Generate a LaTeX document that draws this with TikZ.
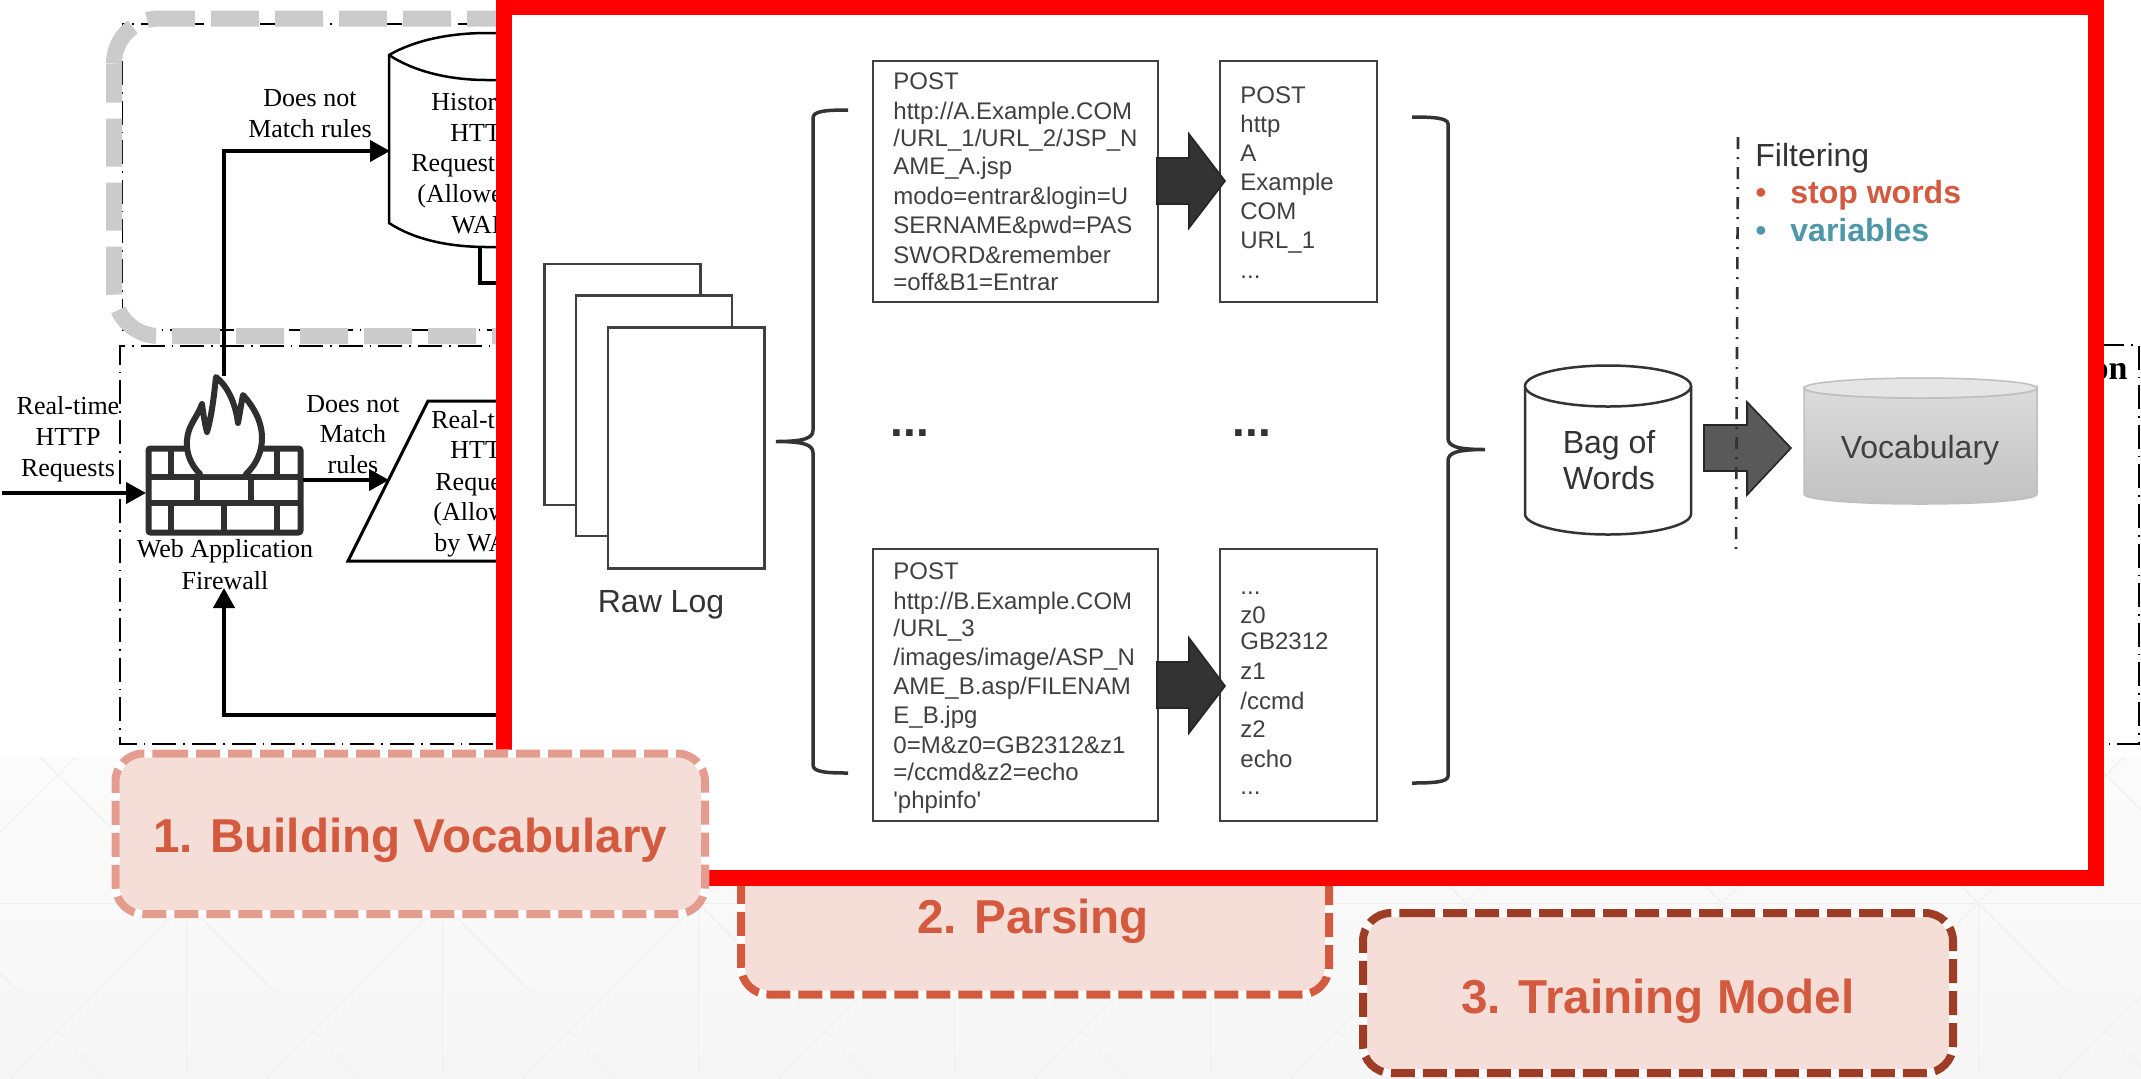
\documentclass[tikz,border=0pt]{standalone}
\usepackage{fontspec}
\usetikzlibrary{arrows.meta}
\newfontfamily\arialf{Liberation Sans}
\newfontfamily\timesf{Liberation Serif}
\definecolor{redbox}{HTML}{FF0000}
\definecolor{inkgrey}{HTML}{404040}
\definecolor{darkgrey}{HTML}{333333}
\definecolor{bandgrey}{HTML}{CBCBCB}
\definecolor{rust}{HTML}{D35A3E}
\definecolor{rustlight}{HTML}{E39C8D}
\definecolor{rustdark}{HTML}{9E3D25}
\definecolor{tealtxt}{HTML}{4E97A8}
\definecolor{stepfill}{HTML}{F5DDD8}
\definecolor{wallgrey}{HTML}{2F2F2F}
\definecolor{faint}{HTML}{EFEFEF}
\tikzset{
  sans/.style={font=\arialf\fontsize{12}{14}\selectfont,text=inkgrey,inner sep=0pt,anchor=base west},
  big/.style={font=\arialf\fontsize{16}{18}\selectfont,text=darkgrey,inner sep=0pt,anchor=base},
  boldbig/.style={font=\arialf\bfseries\fontsize{16}{18}\selectfont,inner sep=0pt,anchor=base west},
  steplabel/.style={font=\arialf\bfseries\fontsize{23.8}{26}\selectfont,text=rust,inner sep=0pt,anchor=base},
  serif/.style={font=\timesf\fontsize{13}{15}\selectfont,text=black,inner sep=0pt,anchor=base},
  serifw/.style={serif,anchor=base west},
  textbox/.style={draw=inkgrey,line width=1.25pt,fill=white},
  page/.style={draw=inkgrey,line width=1.25pt,fill=white},
  conn/.style={draw=black,line width=2pt,-{Triangle[length=10pt,width=10.5pt]}},
  plainconn/.style={draw=black,line width=2pt},
  thin/.style={draw=black,line width=.75pt,dash pattern=on 12pt off 3.5pt on .8pt off 3.5pt},
  grayband/.style={draw=bandgrey,line width=8pt,rounded corners=22.5pt,dash pattern=on 24pt off 8pt},
  stepfillst/.style={fill=stepfill,draw=white,line width=4pt,rounded corners=14pt},
  stepdash/.style={line width=4pt,rounded corners=14pt,dash pattern=on 12pt off 4pt},
  brace/.style={draw=darkgrey,line width=1.75pt},
  block/.style={draw=black!85,line width=.8pt,fill=darkgrey,line join=miter},
  cyl/.style={draw=black,line width=1.25pt},
  wall/.style={draw=wallgrey,line width=3pt},
}
\begin{document}
\begin{tikzpicture}[x=.5pt,y=-.5pt]
\useasboundingbox (0,0) rectangle (2141,1078);
\fill[white] (0,0) rectangle (2141,1078);
% slide background
\shade[top color=black!1.5,bottom color=black!3.5] (0,757) rectangle (2141,1078);
\begin{scope}
\clip (0,757) rectangle (2141,1078);
\draw[faint,line width=.5pt] (0,903) -- (2141,903);
\foreach \k in {-1,...,8}{
  \pgfmathsetmacro{\xc}{186+256*\k}
  \draw[faint,line width=.5pt] (\xc,903) -- (\xc,1078);
  \draw[faint,line width=.5pt] ({\xc-146},757) -- ({\xc+175},1078);
  \draw[faint,line width=.5pt] ({\xc+146},757) -- ({\xc-175},1078);
}
\end{scope}
% paper frames
\draw[thin] (640,24) -- (122.6,24) -- (122.6,330) -- (640,330);
\draw[thin] (640,346) -- (120,346) -- (120,744) -- (640,744);
\draw[thin] (2100,345) -- (2139,345) -- (2139,744) -- (2100,744);
% grey highlight box
\draw[grayband] (604,336) -- (114,336) -- (114,63.5);
\draw[grayband,dash phase=2.65pt] (114,63.5) -- (114,18.5) -- (640,18.5);
% firewall
\coordinate (inStart) at (2,493);
\coordinate (fwIn) at (146,493);
\coordinate (fwOut) at (303,480);
\coordinate (fwTop) at (224,376);
\coordinate (fwBottom) at (224,588);
\coordinate (histIn) at (390,151);
\coordinate (rtIn) at (389,480);
\coordinate (histOutA) at (480,247);
\coordinate (histOutB) at (520,283);
\coordinate (feedback) at (520,715);
\draw[wall,rounded corners=1pt] (148.5,448.5) rectangle (300.5,532.5);
\draw[wall] (148,477) -- (301,477) (148,503) -- (301,503);
\draw[wall] (171,448) -- (171,477) (277,448) -- (277,477);
\draw[wall] (197,477) -- (197,503) (251,477) -- (251,503);
\draw[wall] (171,503) -- (171,533) (224,503) -- (224,533) (277,503) -- (277,533);
\draw[wall,fill=white,line join=round,line cap=round] (200,474)
  .. controls (190,464) and (186,452) .. (187,440)
  .. controls (188,425) and (197,418) .. (202,404)
  .. controls (203,412) and (205,425) .. (207,432)
  .. controls (212,415) and (214,395) .. (216,377)
  .. controls (226,385) and (235,400) .. (238,423)
  .. controls (240,412) and (241,405) .. (243,395)
  .. controls (252,405) and (262,420) .. (262,438)
  .. controls (262,452) and (256,465) .. (246,474);
\node[serif] (wafA) at (225,557) {Web Application};
\node[serif] (wafB) at (225,589) {Firewall};
% connectors on the left
\draw[conn] (inStart) -- (fwIn);
\draw[conn] (fwTop) |- (histIn);
\draw[conn] (fwOut) -- (rtIn);
\draw[conn] (feedback) -| (fwBottom);
% historical cylinder
\draw[cyl,fill=white] (389,55) .. controls (415,40) and (450,33) .. (487,33) -- (600,33) -- (600,247) -- (487,247) .. controls (450,247) and (415,240) .. (389,223) -- cycle;
\draw[cyl] (389,55) .. controls (415,72) and (450,80) .. (487,80) -- (600,80);
\draw[plainconn] (histOutA) |- (histOutB);
\node[serifw] (hA) at (431,110) {Histor};
\node[serifw] (hB) at (450,141) {HTT};
\node[serifw] (hC) at (411,171) {Request};
\node[serifw] (hD) at (417,202) {(Allowe};
\node[serifw] (hE) at (451,233) {WAF};
\node[serif] (lA) at (310,106) {Does not};
\node[serif] (lB) at (310,137) {Match rules};
\node[serif] (rA) at (68,414) {Real-time};
\node[serif] (rB) at (68,445.5) {HTTP};
\node[serif] (rC) at (68,476) {Requests};
\node[serif] (mA) at (353,412) {Does not};
\node[serif] (mB) at (353,442) {Match};
\node[serif] (mC) at (353,473) {rules};
% real-time parallelogram
\draw[draw=black,line width=1.5pt,line join=miter] (600,401) -- (428,401) -- (348,561) -- (600,561);
\node[serifw] (pA) at (431,428) {Real-t};
\node[serifw] (pB) at (450,458) {HTT};
\node[serifw] (pC) at (435,490) {Reque};
\node[serifw] (pD) at (433,520) {(Allow};
\node[serifw] (pE) at (434,551) {by WA};
\node[font=\timesf\bfseries\fontsize{17}{19}\selectfont,text=black,inner sep=0pt,anchor=base east] (cutOn) at (2128,379) {on};
% step 2 box (under the red frame)
\path[stepfillst] (1329,860) -- (1329,994.5) -- (741,994.5) -- (741,860) -- cycle;
\draw[stepdash,draw=rust] (1329,881) -- (1329,994.5) -- (741,994.5) -- (741,860);
% red frame
\draw[draw=redbox,fill=white,line width=8pt] (504,6.5) rectangle (2096,878);
% raw log pages
\draw[page] (544.5,264) rectangle (700.5,505);
\draw[page] (576,295.5) rectangle (732,536);
\draw[page] (608,327.5) rectangle (764.5,568.5);
\node[big] (rawlog) at (661,612) {Raw Log};
% left brace
\draw[brace] (848,110) .. controls (826,110) and (813,111) .. (813,118) -- (813,430) .. controls (813,438) and (805,441.5) .. (776,441.5) .. controls (805,441.5) and (813,445) .. (813,453) -- (813,765) .. controls (813,772) and (826,773) .. (848,773);
% request boxes
\draw[textbox] (873,61) rectangle (1158,302);
\draw[textbox] (1220,61) rectangle (1377,302);
\draw[textbox] (873,549) rectangle (1158,821);
\draw[textbox] (1220,549) rectangle (1377,821);
\node[sans] (a1) at (893,89) {POST};
\node[sans] (a2) at (893,119) {http://A.Example.COM};
\node[sans] (a3) at (893,146) {/URL\_1/URL\_2/JSP\_N};
\node[sans] (a4) at (893,174) {AME\_A.jsp};
\node[sans] (a5) at (893,204) {modo=entrar\&login=U};
\node[sans] (a6) at (893,233) {SERNAME\&pwd=PAS};
\node[sans] (a7) at (893,263) {SWORD\&remember};
\node[sans] (a8) at (893,290) {=off\&B1=Entrar};
\node[sans] (c1) at (1240,103) {POST};
\node[sans] (c2) at (1240,132) {http};
\node[sans] (c3) at (1240,161) {A};
\node[sans] (c4) at (1240,190) {Example};
\node[sans] (c5) at (1240,219) {COM};
\node[sans] (c6) at (1240,248) {URL\_1};
\node[sans] (c7) at (1240,278) {...};
\node[sans] (b1) at (893,579) {POST};
\node[sans] (b2) at (893,609) {http://B.Example.COM};
\node[sans] (b3) at (893,636) {/URL\_3};
\node[sans] (b4) at (893,665) {/images/image/ASP\_N};
\node[sans] (b5) at (893,694) {AME\_B.asp/FILENAM};
\node[sans] (b6) at (893,723) {E\_B.jpg};
\node[sans] (b7) at (893,753) {0=M\&z0=GB2312\&z1};
\node[sans] (b8) at (893,780) {=/ccmd\&z2=echo};
\node[sans] (b9) at (893,808) {'phpinfo'};
\node[sans] (d1) at (1240,594) {...};
\node[sans] (d2) at (1240,623) {z0};
\node[sans] (d3) at (1240,649) {GB2312};
\node[sans] (d4) at (1240,679) {z1};
\node[sans] (d5) at (1240,709) {/ccmd};
\node[sans] (d6) at (1240,737) {z2};
\node[sans] (d7) at (1240,767) {echo};
\node[sans] (d8) at (1240,794) {...};
\node[big,font=\arialf\bfseries\fontsize{23}{25}\selectfont] (dotsA) at (910,436) {...};
\node[big,font=\arialf\bfseries\fontsize{23}{25}\selectfont] (dotsB) at (1252,436) {...};
% block arrows between the boxes
\path[block] (1157,158) -- (1189,158) -- (1189,134) -- (1225,181) -- (1189,228) -- (1189,204) -- (1157,204) -- cycle;
\path[block] (1157,662) -- (1189,662) -- (1189,638) -- (1225,686) -- (1189,733) -- (1189,708) -- (1157,708) -- cycle;
% right brace
\draw[brace] (1412,117) .. controls (1434,117) and (1448,118) .. (1448,124) -- (1448,438) .. controls (1448,446) and (1456,449.5) .. (1485,449.5) .. controls (1456,449.5) and (1448,453) .. (1448,461) -- (1448,776) .. controls (1448,782) and (1434,783) .. (1412,783);
% bag of words
\draw[draw=darkgrey,line width=1.25pt,fill=white] (1525,386) -- (1525,514) .. controls (1525,525) and (1562,534.5) .. (1608,534.5) .. controls (1654,534.5) and (1691,525) .. (1691,514) -- (1691,386);
\draw[draw=darkgrey,line width=1.25pt,fill=white] (1608,386) ellipse [x radius=83,y radius=20.5];
\node[big] (bagA) at (1609,453) {Bag of};
\node[big] (bagB) at (1609,489) {Words};
% vocabulary
\draw[draw=black!25,line width=.75pt,top color=black!14,bottom color=black!24] (1804,388) -- (1804,494) .. controls (1804,500) and (1856,504) .. (1920.5,504) .. controls (1985,504) and (2037,500) .. (2037,494) -- (2037,388) .. controls (2037,394) and (1985,398) .. (1920.5,398) .. controls (1856,398) and (1804,394) .. (1804,388) -- cycle;
\draw[draw=black!25,line width=.75pt,fill=black!10] (1920.5,388) ellipse [x radius=116.5,y radius=10];
\node[big,text=inkgrey] (vocab) at (1920,458) {Vocabulary};
% block arrow to vocabulary
\path[block,fill=black!65] (1704,425) -- (1747,425) -- (1747,402) -- (1791,448) -- (1747,495) -- (1747,471) -- (1704,471) -- cycle;
% filtering separator
\draw[draw=darkgrey,line width=1.3pt,dash pattern=on 6pt off 4pt on 1pt off 4pt] (1738,137) -- (1736,550);
\node[big,anchor=base west] (filt) at (1755,166) {Filtering};
\node[boldbig,text=rust,font=\arialf\fontsize{16}{18}\selectfont] (bulA) at (1755,203) {•};
\node[boldbig,text=rust] (stopw) at (1790,203) {stop words};
\node[boldbig,text=tealtxt,font=\arialf\fontsize{16}{18}\selectfont] (bulB) at (1755,241) {•};
\node[boldbig,text=tealtxt] (vars) at (1790,241) {variables};
% step boxes on top
\path[stepfillst] (164,753.5) -- (705,753.5) -- (705,914) -- (115.5,914) -- (115.5,753.5) -- cycle;
\draw[stepdash,draw=rustlight] (164,753.5) -- (705,753.5) -- (705,914) -- (115.5,914) -- (115.5,753.5) -- (164,753.5);
\node[steplabel] (s1) at (410,852) {1. Building Vocabulary};
\node[steplabel] (s2) at (1033,933) {2. Parsing};
\path[stepfillst] (1411,913) -- (1953,913) -- (1953,1073) -- (1363,1073) -- (1363,913) -- cycle;
\draw[stepdash,draw=rustdark] (1411,913) -- (1953,913) -- (1953,1073) -- (1363,1073) -- (1363,913) -- (1411,913);
\node[steplabel] (s3) at (1658,1013) {3. Training Model};
\end{tikzpicture}
\end{document}
